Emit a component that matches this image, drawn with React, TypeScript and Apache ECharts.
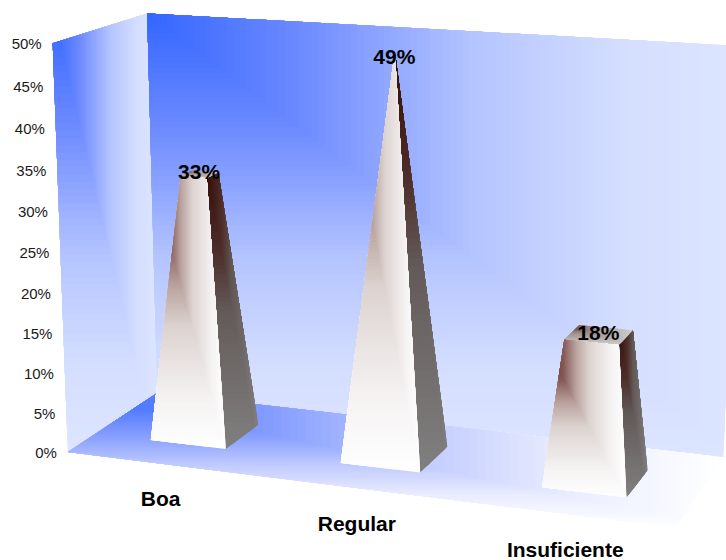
import React, { useEffect, useRef } from "react";
import * as echarts from "echarts";

const categories = ["Boa", "Regular", "Insuficiente"];
const seriesValues = [33, 49, 18];
const valueTicks = [0, 5, 10, 15, 20, 25, 30, 35, 40, 45, 50];

const WIDTH = 726;
const HEIGHT = 560;
const AXIS_MAX = 50;
const FONT = '"Liberation Sans", Arial, sans-serif';

// Screen positions of the chart box corners, [u, depth, w] -> [x, y].
const boxCorners: number[][] = [
  [0, 0, 0, 68, 452],
  [0, 0, 1, 52, 44],
  [0, 1, 0, 157, 393],
  [0, 1, 1, 148, 13],
  [1, 1, 0, 723, 458],
  [1, 1, 1, 739, 45.8],
  [1, 0, 0, 676, 527],
];

type Pt = number[];
type Stop = [number, number[]];

const wallStops: Stop[] = [
  [0, [51, 102, 255]],
  [0.25, [107, 137, 255]],
  [0.55, [180, 196, 255]],
  [0.8, [212, 222, 255]],
  [1, [221, 229, 255]],
];
const floorStops: Stop[] = [
  [0, [51, 102, 255]],
  [0.3, [130, 155, 255]],
  [0.55, [195, 205, 255]],
  [0.75, [232, 235, 255]],
  [1, [255, 255, 255]],
];
const frontStops: Stop[] = [
  [0, [90, 26, 24]],
  [0.25, [132, 88, 85]],
  [0.4, [185, 162, 158]],
  [0.55, [220, 210, 207]],
  [0.8, [244, 241, 241]],
  [1, [255, 255, 255]],
];
const sideStops: Stop[] = [
  [0, [53, 13, 8]],
  [0.3, [79, 48, 44]],
  [0.5, [99, 90, 88]],
  [1, [128, 128, 128]],
];
const capStops: Stop[] = [
  [0, [74, 42, 40]],
  [0.4, [160, 144, 144]],
  [1, [207, 207, 207]],
];

// Solves the projective camera from the box corners by least squares.
function solveCamera(corners: number[][]): number[] {
  const rows: number[][] = [];
  const rhs: number[] = [];
  for (const [u, d, w, x, y] of corners) {
    rows.push([u, d, w, 1, 0, 0, 0, 0, -x * u, -x * d, -x * w]);
    rhs.push(x);
    rows.push([0, 0, 0, 0, u, d, w, 1, -y * u, -y * d, -y * w]);
    rhs.push(y);
  }
  const n = 11;
  const m: number[][] = [];
  for (let i = 0; i < n; i++) {
    const row = new Array(n + 1).fill(0);
    for (let j = 0; j < n; j++) {
      for (let k = 0; k < rows.length; k++) row[j] += rows[k][i] * rows[k][j];
    }
    for (let k = 0; k < rows.length; k++) row[n] += rows[k][i] * rhs[k];
    m.push(row);
  }
  for (let c = 0; c < n; c++) {
    let p = c;
    for (let r = c + 1; r < n; r++) if (Math.abs(m[r][c]) > Math.abs(m[p][c])) p = r;
    [m[c], m[p]] = [m[p], m[c]];
    for (let r = 0; r < n; r++) {
      if (r === c) continue;
      const f = m[r][c] / m[c][c];
      for (let k = c; k <= n; k++) m[r][k] -= f * m[c][k];
    }
  }
  return m.map((row, i) => row[n] / row[i]);
}

const cam = solveCamera(boxCorners);

function project(u: number, d: number, w: number): Pt {
  const z = cam[8] * u + cam[9] * d + cam[10] * w + 1;
  return [
    (cam[0] * u + cam[1] * d + cam[2] * w + cam[3]) / z,
    (cam[4] * u + cam[5] * d + cam[6] * w + cam[7]) / z,
  ];
}

function colorAt(stops: Stop[], t: number): string {
  let i = 0;
  while (i < stops.length - 2 && t > stops[i + 1][0]) i++;
  const [t0, a] = stops[i];
  const [t1, b] = stops[i + 1];
  const f = Math.min(1, Math.max(0, (t - t0) / (t1 - t0)));
  const c = a.map((v, k) => Math.round(v + (b[k] - v) * f));
  return `rgb(${c[0]},${c[1]},${c[2]})`;
}

// Keeps the part of a convex polygon on the low side of a limit along one axis.
function clipBelow(poly: Pt[], axis: number, limit: number): Pt[] {
  const out: Pt[] = [];
  for (let i = 0; i < poly.length; i++) {
    const a = poly[i];
    const b = poly[(i + 1) % poly.length];
    const ina = a[axis] <= limit;
    const inb = b[axis] <= limit;
    if (ina) out.push(a);
    if (ina !== inb) {
      const f = (limit - a[axis]) / (b[axis] - a[axis]);
      out.push([a[0] + (b[0] - a[0]) * f, a[1] + (b[1] - a[1]) * f]);
    }
  }
  return out;
}

// Corner-style fill: bands nest from the top-left of the face's bounding box,
// painted large to small so that neighbouring bands leave no seams.
function cornerFill(poly: Pt[], stops: Stop[], steps: number): any[] {
  const xs = poly.map((p) => p[0]);
  const ys = poly.map((p) => p[1]);
  const x0 = Math.min(...xs);
  const y0 = Math.min(...ys);
  const bw = Math.max(...xs) - x0;
  const bh = Math.max(...ys) - y0;
  const out: any[] = [];
  for (let k = steps; k >= 1; k--) {
    const t = k / steps;
    const part = clipBelow(clipBelow(poly, 0, x0 + bw * t), 1, y0 + bh * t);
    if (part.length < 3) continue;
    out.push({
      type: "polygon",
      shape: { points: part },
      style: { fill: colorAt(stops, t - 0.5 / steps) },
      silent: true,
    });
  }
  return out;
}

const HALF_U = 0.067;
const HALF_D = 0.2;
const DEPTH_MID = 0.5;

// The pyramids stand a little short of the box height, more so toward the right.
const heightAt = (u: number, w: number) => w * (1 - 0.03 * u);

function App() {
  const ref = useRef<HTMLDivElement>(null);
  useEffect(() => {
    const chart = echarts.init(ref.current!, undefined, { renderer: "svg" });

    const toU = (px: number) => px / WIDTH;
    const toW = (py: number) => (HEIGHT - py) / HEIGHT;

    const option: any = {
      animation: false,
      backgroundColor: "#ffffff",
      grid: { left: 0, right: 0, top: 0, bottom: 0 },
      xAxis: { type: "category", data: categories, show: false },
      yAxis: { type: "value", min: 0, max: AXIS_MAX, interval: 5, show: false },
      series: [
        {
          // Side wall, back wall and floor of the box.
          type: "custom",
          silent: true,
          clip: false,
          data: [[0, 0]],
          renderItem: () => ({
            type: "group",
            children: [
              ...cornerFill(
                [project(0, 0, 1), project(0, 1, 1), project(0, 1, 0), project(0, 0, 0)],
                wallStops,
                60,
              ),
              ...cornerFill(
                [project(0, 1, 1), project(1, 1, 1), project(1, 1, 0), project(0, 1, 0)],
                wallStops,
                90,
              ),
              ...cornerFill(
                [project(0, 1, 0), project(1, 1, 0), project(1, 0, 0), project(0, 0, 0)],
                floorStops,
                80,
              ),
            ],
          }),
        },
        {
          // Truncated pyramids whose apex sits at the axis maximum.
          type: "custom",
          silent: true,
          clip: false,
          data: categories.map((_, i) => [i, seriesValues[i]]),
          renderItem: (_: any, api: any) => {
            const [px, py] = api.coord([api.value(0), api.value(1)]);
            const uc = toU(px);
            const t = toW(py);
            const h = heightAt(uc, t);
            const shrink = 1 - t;
            const base = (du: number, dd: number) =>
              project(uc + du * HALF_U, DEPTH_MID + dd * HALF_D, 0);
            const top = (du: number, dd: number) =>
              project(uc + du * HALF_U * shrink, DEPTH_MID + dd * HALF_D * shrink, h);
            const front = [top(-1, -1), top(1, -1), base(1, -1), base(-1, -1)];
            const side = [top(1, -1), top(1, 1), base(1, 1), base(1, -1)];
            const cap = [top(-1, 1), top(1, 1), top(1, -1), top(-1, -1)];
            return {
              type: "group",
              children: [
                ...cornerFill(side, sideStops, 60),
                ...cornerFill(cap, capStops, 20),
                ...cornerFill(front, frontStops, 120),
              ],
            };
          },
        },
        {
          // Value labels above the pyramid tops.
          type: "custom",
          silent: true,
          clip: false,
          data: categories.map((_, i) => [i, seriesValues[i]]),
          renderItem: (_: any, api: any) => {
            const [px, py] = api.coord([api.value(0), api.value(1)]);
            const uc = toU(px);
            const [x, y] = project(uc, DEPTH_MID, heightAt(uc, toW(py)));
            return {
              type: "text",
              x: x - 0.5,
              y: y - 2.5,
              silent: true,
              style: {
                text: `${api.value(1)}%`,
                fontFamily: FONT,
                fontWeight: "bold",
                fontSize: 21,
                fill: "#000000",
                align: "center",
                verticalAlign: "middle",
              },
            };
          },
        },
        {
          // Category names below the front edge of the floor.
          type: "custom",
          silent: true,
          clip: false,
          data: categories.map((_, i) => [i, 0]),
          renderItem: (params: any, api: any) => {
            const [px] = api.coord([api.value(0), 0]);
            const [x, y] = project(toU(px), 0, 0);
            return {
              type: "text",
              x: x - 1,
              y: y + 35,
              silent: true,
              style: {
                text: categories[params.dataIndex],
                fontFamily: FONT,
                fontWeight: "bold",
                fontSize: 21,
                fill: "#000000",
                align: "center",
                verticalAlign: "middle",
              },
            };
          },
        },
        {
          // Percentage ticks along the slanted front-left edge.
          type: "custom",
          silent: true,
          clip: false,
          data: valueTicks.map((v) => [0, v]),
          renderItem: (_: any, api: any) => {
            const [, py] = api.coord([0, api.value(1)]);
            const [x, y] = project(0, 0, toW(py));
            return {
              type: "text",
              x: x - 11,
              y: y + 0.5,
              silent: true,
              style: {
                text: `${api.value(1)}%`,
                fontFamily: FONT,
                fontSize: 15,
                fill: "#1a1a1a",
                align: "right",
                verticalAlign: "middle",
              },
            };
          },
        },
      ],
    };
    chart.setOption(option);
    return () => chart.dispose();
  }, []);
  return (
    <div
      ref={ref}
      style={{ position: "absolute", left: 0, top: 0, width: WIDTH, height: HEIGHT }}
    />
  );
}

export default App;
